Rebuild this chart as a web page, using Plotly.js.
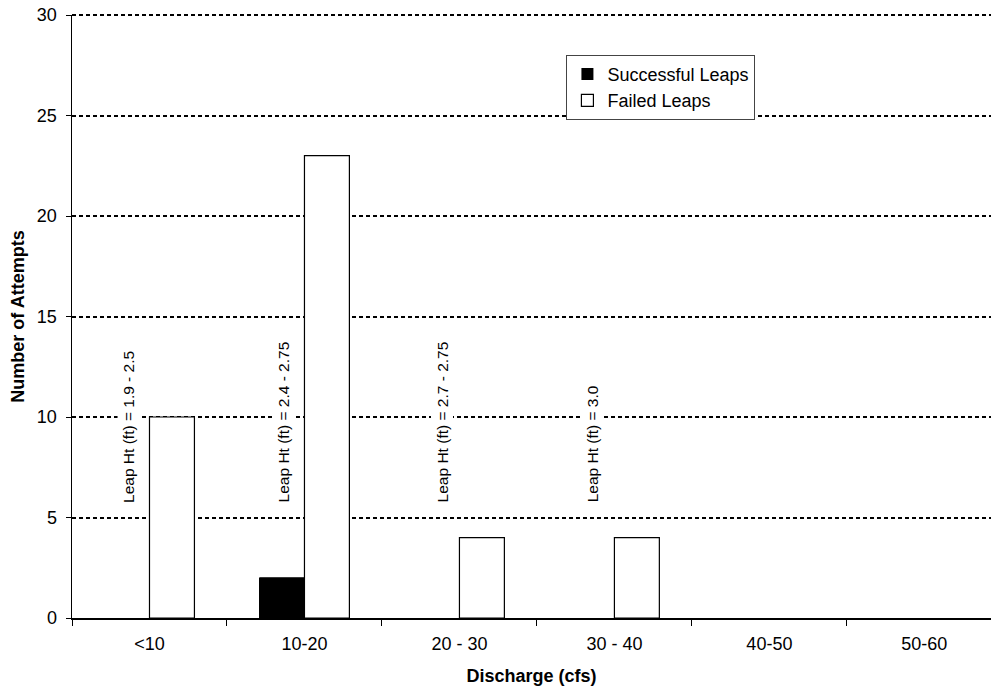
<!DOCTYPE html>
<html>
<head>
<meta charset="utf-8">
<script src="https://cdn.plot.ly/plotly-3.0.1.min.js"></script>
<style>html,body{margin:0;padding:0;background:#fff;}#chart{width:991px;height:686px;}</style>
</head>
<body>
<div id="chart"></div>
<script>
const categories = ["<10", "10-20", "20 - 30", "30 - 40", "40-50", "50-60"];
const successful = [0, 2, 0, 0, 0, 0];
const failed = [10, 23, 4, 4, 0, 0];
const yTicks = [0, 5, 10, 15, 20, 25, 30];
const leapLabels = ["Leap Ht (ft) = 1.9 - 2.5", "Leap Ht (ft) = 2.4 - 2.75", "Leap Ht (ft) = 2.7 - 2.75", "Leap Ht (ft) = 3.0"];
const leapLabelY = 5.6;

const FONT = "Arial, 'Liberation Sans', sans-serif";
const yMax = yTicks[yTicks.length - 1];

const traces = [
  {type: "bar", name: "Successful Leaps", x: categories, y: successful, legendgroup: "a",
   marker: {color: "#000000", line: {color: "#000000", width: successful.map(v => v ? 1 : 0)}}},
  {type: "bar", name: "Failed Leaps", x: categories, y: failed, legendgroup: "b",
   marker: {color: "#ffffff", line: {color: "#000000", width: failed.map(v => v ? 1.2 : 0)}}}
];

const annotations = leapLabels.map((t, i) => ({
  x: i, xref: "x", y: leapLabelY, yref: "y", text: t, showarrow: false,
  textangle: -90, xanchor: "center", yanchor: "bottom", xshift: i === 2 ? -17 : -21,
  bgcolor: "#ffffff", borderpad: 2,
  font: {family: FONT, size: 15.5, color: "#000"}
}));

const layout = {
  width: 991, height: 686,
  margin: {l: 72, r: 0, t: 15, b: 68},
  paper_bgcolor: "#fff", plot_bgcolor: "#fff",
  font: {family: FONT, color: "#000", size: 18},
  barmode: "group", bargap: 0.42, bargroupgap: 0,
  showlegend: true,
  legend: {x: 0.538, y: 0.934, xanchor: "left", yanchor: "top",
    bgcolor: "#fff", bordercolor: "#444", borderwidth: 1,
    font: {size: 18}, itemwidth: 30, traceorder: "grouped", tracegroupgap: 0},
  xaxis: {
    type: "category", range: [-0.5, 5.43], tickson: "boundaries",
    ticks: "outside", ticklen: 6, tickcolor: "#000", tickwidth: 1,
    showline: true, linecolor: "#000", linewidth: 1.5,
    showgrid: false, zeroline: false, ticklabelstandoff: 9,
    tickfont: {size: 18},
    title: {text: "<b>Discharge (cfs)</b>", font: {size: 18}, standoff: 17}
  },
  yaxis: {
    range: [0, yMax], tickvals: yTicks,
    ticks: "outside", ticklen: 5, tickcolor: "#000", tickwidth: 1,
    showline: true, linecolor: "#000", linewidth: 1.5,
    showgrid: true, gridcolor: "#000", gridwidth: 2, griddash: "4px,3px",
    zeroline: false, tickfont: {size: 18}, ticklabelstandoff: 5,
    title: {text: "<b>Number of Attempts</b>", font: {size: 18}, standoff: 7}
  },
  shapes: [{type: "line", xref: "paper", x0: 0, x1: 1, yref: "paper", y0: 1, y1: 1,
    line: {color: "#000", width: 2, dash: "4px,3px"}, layer: "below"}],
  annotations: annotations
};

Plotly.newPlot("chart", traces, layout, {staticPlot: true, displayModeBar: false});
</script>
</body>
</html>
